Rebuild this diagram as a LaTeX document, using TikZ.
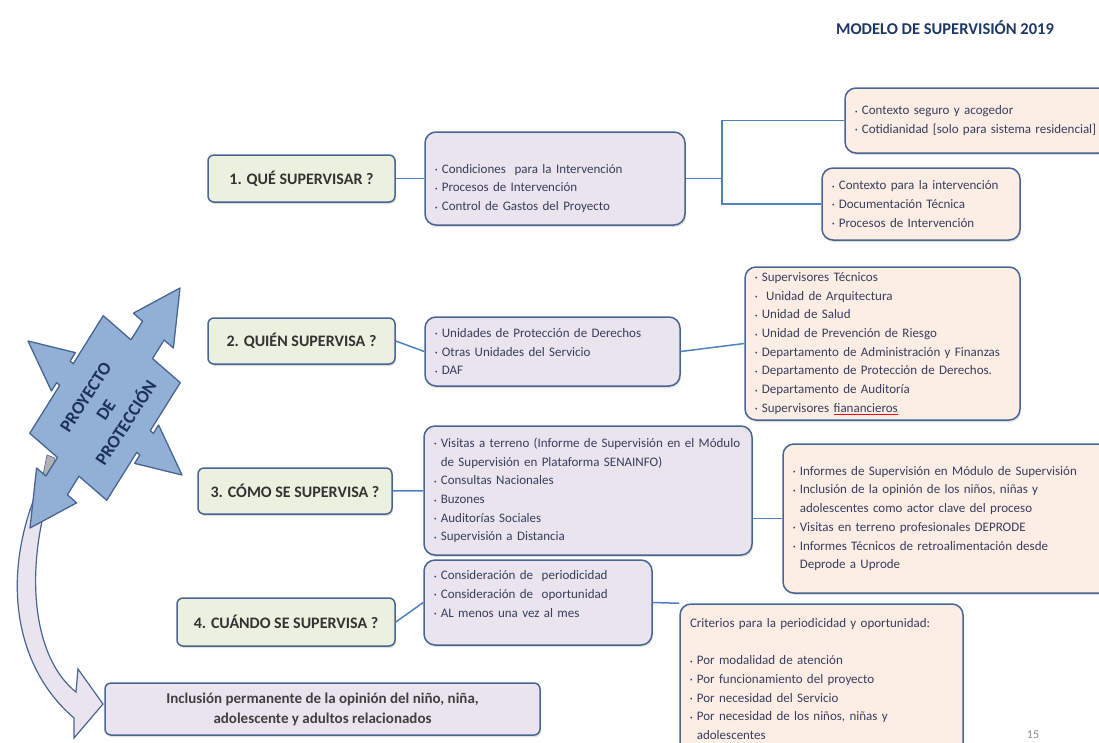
\documentclass[tikz,border=0pt]{standalone}
\usepackage{fontspec}
\setmainfont{Carlito}
\usetikzlibrary{positioning, shadows}

\definecolor{lineblue}{RGB}{79,129,189}
\definecolor{edgeblue}{RGB}{72,101,146}
\definecolor{qfill}{RGB}{236,241,223}
\definecolor{lavfill}{RGB}{234,228,238}
\definecolor{peachfill}{RGB}{253,238,229}
\definecolor{starfill}{RGB}{146,176,214}
\definecolor{txtgray}{RGB}{55,62,92}
\definecolor{titleblue}{RGB}{31,56,100}

\newcommand{\itm}{\raisebox{1.5pt}{\tiny\textbullet}\ }
\newcommand{\cont}{\phantom{\itm}}
\newcommand{\squig}[1]{\textcolor{red}{\underline{\textcolor{txtgray}{#1}}}}

\begin{document}
\begin{tikzpicture}[x=1pt, y=-1pt, >=stealth,
  shade/.style={drop shadow={shadow xshift=1pt, shadow yshift=-2pt, opacity=0.25}},
  qbox/.style={draw=edgeblue, line width=1.5pt, fill=qfill, rounded corners=6pt, text=black!80, font=\fontsize{16}{19}\selectfont\bfseries, shade},
  list/.style={draw=edgeblue, line width=1.5pt, rounded corners=11pt, text=txtgray, align=left, inner xsep=10pt, inner ysep=4pt, font=\fontsize{13}{18.7}\selectfont, shade},
  mid/.style={list, fill=lavfill},
  side/.style={list, fill=peachfill},
  incl/.style={qbox, fill=lavfill, align=center, text=black!75, font=\fontsize{15}{20}\selectfont\bfseries},
  link/.style={draw=lineblue, line width=1.5pt},
  band/.style={draw=edgeblue, line width=1.2pt, fill=lavfill},
  starbody/.style={draw=edgeblue, line width=1.3pt, fill=starfill, line join=round}]
\useasboundingbox (0,0) rectangle (1099,742);

% title and page number
\node[text=titleblue, font=\fontsize{16.5}{19}\selectfont\bfseries] (title) at (945,28) {MODELO DE SUPERVISIÓN 2019};
\node[text=black!45, font=\fontsize{12}{14}\selectfont] (page) at (1033,735) {15};

% curved arrow behind the star
\draw[band] (42,480) .. controls (0,570) and (12,665) .. (74,718) -- (74,738) -- (103,704) -- (78,669) -- (76,692)
  .. controls (35,660) and (22,575) .. (52,484) -- cycle;
\fill[gray!60, draw=edgeblue, line width=0.6pt] (47,455) -- (55,458) -- (52,484) -- (42,480) -- cycle;

% quad arrow
\begin{scope}[shift={(105,408)}, x={(75pt,120pt)}, y={(77pt,-67pt)}]
\draw[starbody] (0.49,-0.5) -- (0.49,-0.14) -- (0.645,-0.14) -- (0.645,-0.26) -- (1,0) -- (0.645,0.26) -- (0.645,0.14) -- (0.49,0.14)
  -- (0.49,0.5) -- (0.09,0.5) -- (0.09,0.54) -- (0.16,0.54) -- (0,1) -- (-0.16,0.54) -- (-0.09,0.54) -- (-0.09,0.5)
  -- (-0.49,0.5) -- (-0.49,0.14) -- (-0.645,0.14) -- (-0.645,0.26) -- (-1,0) -- (-0.645,-0.26) -- (-0.645,-0.14) -- (-0.49,-0.14)
  -- (-0.49,-0.5) -- (-0.09,-0.5) -- (-0.09,-0.54) -- (-0.16,-0.54) -- (0,-1) -- (0.16,-0.54) -- (0.09,-0.54) -- (0.09,-0.5) -- cycle;
\end{scope}
\node[rotate=57, align=center, text=titleblue!90!black, font=\fontsize{18}{24}\selectfont\bfseries] (proj) at (106,410) {PROYECTO\\DE\\PROTECCIÓN};

% questions
\node[qbox, minimum width=187pt, minimum height=47pt] (q1) at (301.5,178.5) {1. QUÉ SUPERVISAR ?};
\node[qbox, minimum width=187pt, minimum height=46pt] (q2) at (301.5,341) {2. QUIÉN SUPERVISA ?};
\node[qbox, minimum width=194pt, minimum height=46pt] (q3) at (295,491) {3. CÓMO SE SUPERVISA ?};
\node[qbox, minimum width=218pt, minimum height=48pt] (q4) at (286,622) {4. CUÁNDO SE SUPERVISA ?};

% middle boxes
\node[mid, text width=240pt, text height=29pt, minimum height=93pt] (a1) at (555,178.5)
  {\itm Condiciones\ \ para la Intervención\\ \itm Procesos de Intervención\\ \itm Control de Gastos del Proyecto};
\node[mid, text width=235pt, minimum height=69pt] (a2) at (552.5,351.5)
  {\itm Unidades de Protección de Derechos\\ \itm Otras Unidades del Servicio\\ \itm DAF};
\node[mid, text width=308pt, minimum height=129pt] (a3) at (588,490.5)
  {\itm Visitas a terreno (Informe de Supervisión en el Módulo\\ \cont de Supervisión en Plataforma SENAINFO)\\ \itm Consultas Nacionales\\ \itm Buzones\\ \itm Auditorías Sociales\\ \itm Supervisión a Distancia};
\node[mid, text width=208pt, minimum height=85pt] (a4) at (538,602.5)
  {\itm Consideración de\ \ periodicidad\\ \itm Consideración de\ \ oportunidad\\ \itm AL menos una vez al mes\par\vspace*{17pt}};

% right boxes
\node[side, text width=245pt, minimum height=65pt] (b1a) at (977.5,120.5)
  {\itm Contexto seguro y acogedor\\ \itm Cotidianidad [solo para sistema residencial]};
\node[side, text width=178pt, minimum height=72pt] (b1b) at (921,204)
  {\itm Contexto para la intervención\\ \itm Documentación Técnica\\ \itm Procesos de Intervención};
\node[side, text width=255pt, minimum height=153pt] (b2) at (882.5,343.5)
  {\itm Supervisores Técnicos\\ \itm\ Unidad de Arquitectura\\ \itm Unidad de Salud\\ \itm Unidad de Prevención de Riesgo\\
   \itm Departamento de Administración y Finanzas\\ \itm Departamento de Protección de Derechos.\\ \itm Departamento de Auditoría\\
   \itm Supervisores \squig{fianancieros}};
\node[side, text width=310pt, minimum height=149pt] (b3) at (948,518.5)
  {\itm Informes de Supervisión en Módulo de Supervisión\\ \itm Inclusión de la opinión de los niños, niñas y\\
   \cont adolescentes como actor clave del proceso\\ \itm Visitas en terreno profesionales DEPRODE\\
   \itm Informes Técnicos de retroalimentación desde\\ \cont Deprode a Uprode};
\node[side, text width=263pt, minimum height=150pt] (b4) at (821.5,679)
  {Criterios para la periodicidad y oportunidad:\\[18.7pt] \itm Por modalidad de atención\\ \itm Por funcionamiento del proyecto\\
   \itm Por necesidad del Servicio\\ \itm Por necesidad de los niños, niñas y\\ \cont adolescentes};

% bottom box
\node[incl, minimum width=435pt, minimum height=52pt] (opinion) at (322.5,709)
  {Inclusión permanente de la opinión del niño, niña,\\adolescente y adultos relacionados};

% connectors
\coordinate (fork) at (722,178.5);
\draw[link] (q1) -- (a1);
\draw[link] (a1) -- (fork);
\draw[link] (b1a.west) -| (fork) |- (b1b.west);
\draw[link] (q2.east) -- (a2.west);
\draw[link] (a2.east) -- (b2.west);
\draw[link] (q3) -- (a3);
\draw[link] (b3.west) -- (b3.west -| a3.east);
\draw[link] (q4.east) -- (a4.west);
\draw[link] (a4.east) -- (b4.north west);
\end{tikzpicture}
\end{document}
